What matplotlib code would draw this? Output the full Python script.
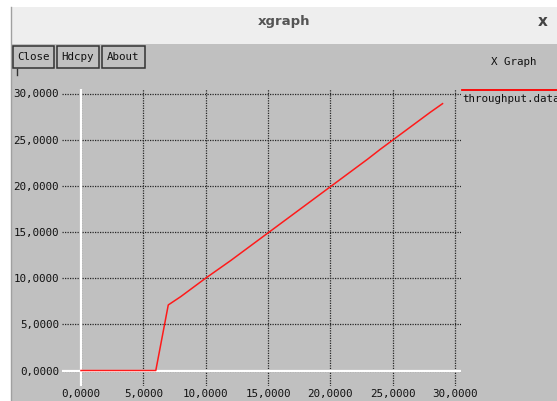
import matplotlib
matplotlib.use('Agg')
import matplotlib.pyplot as plt
from matplotlib.patches import Rectangle
from matplotlib.lines import Line2D

# data (time vs throughput)
time_s = [0, 1, 2, 3, 4, 5, 6, 7, 8, 9, 10, 11, 12, 13, 14, 15, 16, 17, 18, 19,
          20, 21, 22, 23, 24, 25, 26, 27, 28, 29]
throughput = [0, 0, 0, 0, 0, 0, 0, 7.1, 8.0, 9.0, 10.0, 10.95, 11.9, 12.9, 13.9,
              14.9, 15.9, 16.9, 17.9, 18.9, 19.9, 20.9, 21.9, 22.9, 23.95, 24.95,
              25.95, 26.95, 27.95, 28.9]
ticks = [0, 5, 10, 15, 20, 25, 30]
tick_labels = ['0,0000', '5,0000', '10,0000', '15,0000', '20,0000', '25,0000', '30,0000']
series_name = 'throughput.data'

W, H = 557, 401
MONO = 'DejaVu Sans Mono'
GREY = '#c0c0c0'


def fx(px):
    return px / W


def fy(py):
    return 1 - py / H


fig = plt.figure(figsize=(W / 100, H / 100), dpi=100, facecolor='white')

# window chrome (drawn under the axes)
fig.add_artist(Rectangle((fx(11), fy(44)), fx(W) - fx(11), fy(7) - fy(44),
                         transform=fig.transFigure, facecolor='#eeeeee',
                         edgecolor='none', zorder=-5))
fig.add_artist(Rectangle((fx(11), 0), 1 - fx(11), fy(44),
                         transform=fig.transFigure, facecolor=GREY,
                         edgecolor='none', zorder=-5))
fig.add_artist(Line2D([fx(11), fx(11)], [0, fy(7)], transform=fig.transFigure,
                      color='#a0a0a0', lw=1, zorder=-4))
fig.text(fx(284), fy(22), 'xgraph', ha='center', va='center', fontsize=9.5,
         fontweight='bold', color='#555555')
fig.text(fx(543), fy(22), 'x', ha='center', va='center', fontsize=11,
         fontweight='bold', color='#444444')

# buttons
for label, x0, x1 in [('Close', 13, 54), ('Hdcpy', 57, 99), ('About', 102, 145)]:
    fig.add_artist(Rectangle((fx(x0), fy(68)), fx(x1) - fx(x0), fy(46) - fy(68),
                             transform=fig.transFigure, facecolor=GREY,
                             edgecolor='#333333', lw=1.1, zorder=-3))
    fig.text(fx((x0 + x1) / 2), fy(57.5), label, ha='center', va='center',
             fontsize=7.8, family=MONO, color='#111111')
fig.add_artist(Line2D([fx(17), fx(17)], [fy(69), fy(75)], transform=fig.transFigure,
                      color='#333333', lw=1, zorder=-3))
fig.text(fx(514), fy(62), 'X Graph', ha='center', va='center', fontsize=7.8,
         family=MONO, color='#111111')

# plot area in pixels
left, right, top, bottom = 62, 461, 89, 386
x0_px, x30_px = 81, 455
y0_px, y30_px = 370.5, 93.5
sx = (x30_px - x0_px) / 30
sy = (y0_px - y30_px) / 30

ax = fig.add_axes([fx(left), fy(bottom), fx(right) - fx(left), fy(top) - fy(bottom)])
ax.set_facecolor('none')
ax.set_xlim(-(x0_px - left) / sx, 30 + (right - x30_px) / sx)
ax.set_ylim(-(bottom - y0_px) / sy, 30 + (y30_px - top) / sy)
for sp in ax.spines.values():
    sp.set_visible(False)

ax.set_xticks(ticks)
ax.set_xticklabels(tick_labels)
ax.set_yticks(ticks)
ax.set_yticklabels(tick_labels)
ax.tick_params(length=0, pad=2.2, labelsize=7.8, labelcolor='#111111')
for lab in ax.get_xticklabels() + ax.get_yticklabels():
    lab.set_family(MONO)

ax.grid(True, color='#262626', linestyle=(0, (1, 1)), linewidth=0.9)
ax.set_axisbelow(True)
ax.axvline(0, color='white', lw=1.6, zorder=1.5)
ax.axhline(0, color='white', lw=1.6, zorder=1.5)

ax.plot(time_s, throughput, color='#ff1a1a', lw=1.1, zorder=3)

# legend (cut at the window edge, as in the screenshot)
fig.add_artist(Line2D([fx(462), 1], [fy(90), fy(90)], transform=fig.transFigure,
                      color='#ff0000', lw=1.3))
fig.text(fx(462), fy(99), series_name, ha='left', va='center', fontsize=7.8,
         family=MONO, color='#111111')

fig.savefig('out.png', dpi=100, facecolor=fig.get_facecolor())
